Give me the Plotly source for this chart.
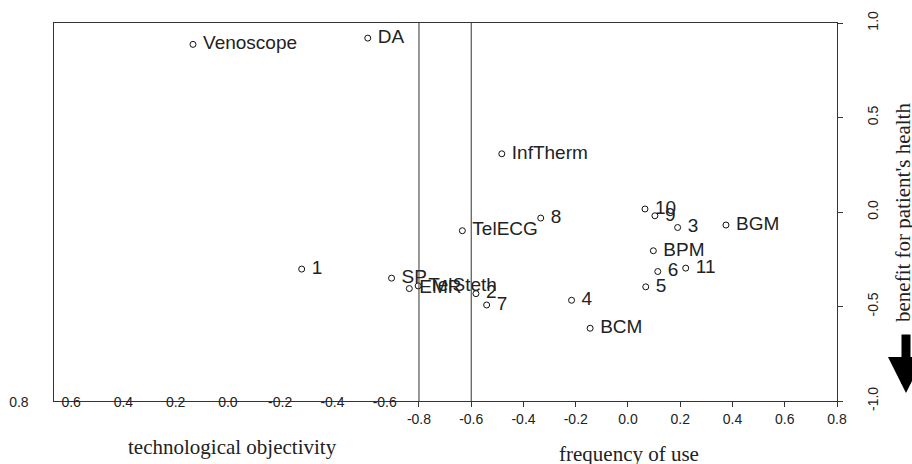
import plotly.graph_objects as go

# ---- data ----
labels = ["Venoscope", "DA", "InfTherm", "TelECG", "8", "1", "SP", "EMR", "TelSteth",
          "2", "7", "4", "BCM", "10", "9", "3", "BGM", "BPM", "6", "11", "5"]
freq_use = [-1.665, -0.996, -0.483, -0.634, -0.334, -1.249, -0.905, -0.837, -0.803,
            -0.582, -0.541, -0.216, -0.145, 0.065, 0.103, 0.190, 0.375, 0.097, 0.114, 0.221, 0.068]
benefit = [0.887, 0.920, 0.308, -0.099, -0.032, -0.302, -0.350, -0.405, -0.391,
           -0.432, -0.492, -0.467, -0.615, 0.016, -0.020, -0.082, -0.069, -0.205, -0.315, -0.297, -0.396]

freq_ticks = [-0.8, -0.6, -0.4, -0.2, 0.0, 0.2, 0.4, 0.6, 0.8]
tech_ticks = [0.8, 0.6, 0.4, 0.2, 0.0, -0.2, -0.4, -0.6]
benefit_ticks = [-1.0, -0.5, 0.0, 0.5, 1.0]
ref_lines = [-0.8, -0.6]


def fmt(vals):
    return [f"{v:.1f}".replace("\u2212", "-") if v != 0 else "0.0" for v in vals]


LINE = "#333333"
TXT = "#222222"
SANS = "Liberation Sans, Arial, sans-serif"
SERIF = "Liberation Serif, Times New Roman, serif"

fig = go.Figure()
fig.add_trace(go.Scatter(
    x=freq_use, y=benefit, mode="markers+text",
    text=["\u00a0" + s for s in labels],
    textposition="middle right",
    textfont=dict(family=SANS, size=19, color=TXT),
    marker=dict(size=6, color="white", line=dict(color="#111111", width=1)),
    showlegend=False, hoverinfo="text", hovertext=labels, cliponaxis=False,
))
# invisible trace to attach the second (technological objectivity) axis
fig.add_trace(go.Scatter(
    x=tech_ticks, y=[0] * len(tech_ticks), xaxis="x2", mode="markers",
    marker=dict(opacity=0), showlegend=False, hoverinfo="skip",
))

for v in ref_lines:
    fig.add_shape(type="line", xref="x", yref="paper", x0=v, x1=v, y0=0, y1=1,
                  line=dict(color=LINE, width=1))

fig.update_layout(
    width=912, height=464,
    margin=dict(l=10, r=75, t=23, b=63),
    paper_bgcolor="white", plot_bgcolor="rgba(0,0,0,0)",
    xaxis=dict(domain=[(54 - 10) / 827, 1], range=[-2.197, 0.8],
               tickvals=freq_ticks, ticktext=fmt(freq_ticks),
               showline=True, linecolor=LINE, linewidth=1, mirror=True,
               ticks="outside", ticklen=5, tickcolor=LINE,
               showgrid=False, zeroline=False,
               tickfont=dict(family=SANS, size=14, color=TXT)),
    xaxis2=dict(domain=[0, 1], anchor="free", position=0,
                range=[0.834, -2.331], tickvals=tech_ticks, ticktext=fmt(tech_ticks),
                showline=False, ticks="", showgrid=False, zeroline=False,
                ticklabelstandoff=-9,
                tickfont=dict(family=SANS, size=14, color=TXT)),
    yaxis=dict(range=[-1, 1], side="right", tickvals=benefit_ticks,
               ticktext=fmt(benefit_ticks),
               showline=True, linecolor=LINE, linewidth=1, mirror=True,
               ticks="outside", ticklen=5, tickcolor=LINE,
               tickangle=-90, ticklabelstandoff=18,
               showgrid=False, zeroline=False,
               tickfont=dict(family=SANS, size=14, color=TXT)),
)

fig.add_annotation(text="technological objectivity", xref="paper", yref="paper",
                   x=(232 - 10) / 827, y=(401 - 447) / 378, showarrow=False,
                   xanchor="center", yanchor="middle",
                   font=dict(family=SERIF, size=21, color=TXT))
fig.add_annotation(text="frequency of use", xref="paper", yref="paper",
                   x=(629 - 10) / 827, y=(401 - 454) / 378, showarrow=False,
                   xanchor="center", yanchor="middle",
                   font=dict(family=SERIF, size=21, color=TXT))
fig.add_annotation(text="benefit for patient's health", xref="paper", yref="paper",
                   x=(903 - 10) / 827, y=(401 - 213) / 378, showarrow=False,
                   xanchor="center", yanchor="middle",
                   textangle=-90, font=dict(family=SERIF, size=21, color=TXT))
fig.add_annotation(text="", xref="paper", yref="paper",
                   x=(906 - 10) / 827, y=(401 - 393) / 378,
                   ax=0, ay=-60, showarrow=True, arrowhead=2, arrowsize=0.8,
                   arrowwidth=9, arrowcolor="black")

fig.write_html("out.html")
